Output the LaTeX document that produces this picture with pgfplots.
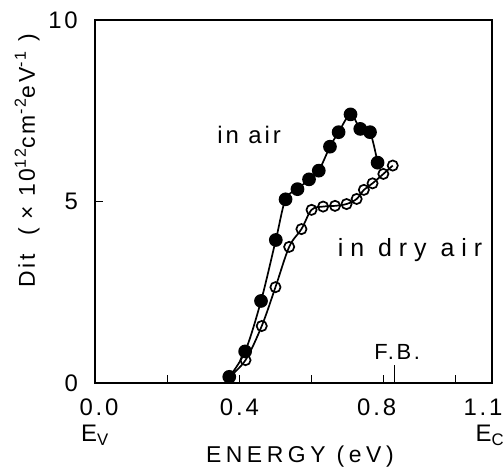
\documentclass[border=0pt]{standalone}
\usepackage{pgfplots}
\pgfplotsset{compat=1.18}
\usepackage{fontspec}
\setmainfont{Liberation Sans}
\newfontfamily\spaced{Liberation Sans}[LetterSpace=12]
\newfontfamily\wide{Liberation Sans}[LetterSpace=20]
\newfontfamily\wider{Liberation Sans}[LetterSpace=28]

% interface trap density, two ambient conditions
\pgfplotstableread{
x      y
0.372  0.17
0.416  0.87
0.460  2.26
0.501  3.94
0.528  5.06
0.561  5.34
0.593  5.61
0.620  5.85
0.651  6.51
0.675  6.91
0.708  7.40
0.735  7.00
0.762  6.91
0.783  6.07
}\inair

\pgfplotstableread{
x      y
0.372  0.17
0.417  0.63
0.462  1.57
0.500  2.64
0.538  3.75
0.572  4.24
0.600  4.77
0.632  4.86
0.665  4.88
0.697  4.93
0.725  5.07
0.745  5.32
0.769  5.50
0.799  5.76
0.825  5.99
}\indryair

\begin{document}
\begin{tikzpicture}
\begin{axis}[
  at={(0,0)}, anchor=south west,
  scale only axis, width=397bp, height=363bp,
  xmin=0, xmax=1.1, ymin=0, ymax=10,
  axis line style={line width=1.3bp},
  tick align=inside, xtick pos=bottom, ytick pos=left,
  major tick length=8bp,
  tick style={line width=0.9bp, black},
  xtick={0,0.2,0.4,0.6,0.8,1.0,1.1},
  xticklabels={{\kern8bp 0.0\\E\textsubscript{V}},,0.4,,0.8\kern14bp,,{1.1\kern18bp\\E\textsubscript{C}\kern4bp}},
  xticklabel style={align=center, font=\fontsize{24}{26}\selectfont\spaced, inner sep=0pt, yshift=-16bp},
  extra x ticks={0.831}, extra x tick labels={},
  extra x tick style={major tick length=18bp},
  ytick={0,5,10}, yticklabels={0,5,10},
  yticklabel style={font=\fontsize{24}{26}\selectfont\spaced, inner sep=0pt, xshift=-17bp},
  xlabel={ENERGY (eV)},
  xlabel style={font=\fontsize{23}{26}\selectfont\wide, at={(axis description cs:0.516,-0.204)}, anchor=center},
  ylabel={Dit \ ( × 10\textsuperscript{12}cm\textsuperscript{-2}eV\textsuperscript{-1} )},
  ylabel style={font=\fontsize{23}{26}\selectfont\spaced, at={(axis description cs:-0.171,0.612)}, anchor=center},
  clip=false,
]
\addplot[black, line width=1.7bp, smooth, tension=0.55, mark=o,
  mark size=5.1bp, mark options={fill=white, line width=1.7bp}]
  table[x=x, y=y] {\indryair};
\addplot[black, line width=1.7bp, smooth, tension=0.55, mark=*,
  mark size=6bp, mark options={fill=black}]
  table[x=x, y=y] {\inair};
\node[font=\fontsize{24}{26}\selectfont\spaced] at (axis cs:0.427,6.83) {in air};
\node[font=\fontsize{25}{26}\selectfont\wider] at (axis cs:0.873,3.66) {in dry air};
\node[font=\fontsize{22}{26}\selectfont\spaced] at (axis cs:0.837,0.85) {F.B.};
\end{axis}
\pgfresetboundingbox
\useasboundingbox (-95bp,-92bp) rectangle (409bp,383bp);
\end{tikzpicture}
\end{document}
